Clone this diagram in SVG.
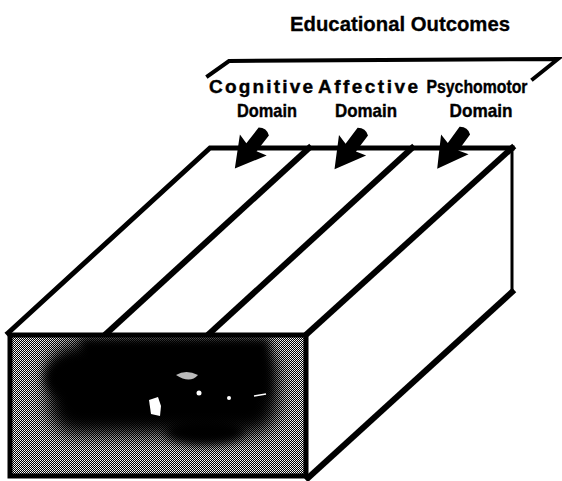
<svg xmlns="http://www.w3.org/2000/svg" width="562" height="481" viewBox="0 0 562 481">
  <style>
    .lbl { font-family: "Liberation Sans", Arial, sans-serif; font-weight: bold; font-size: 19px; fill: #000; stroke: #000; stroke-width: 0.4; }
    .title { font-family: "Liberation Sans", Arial, sans-serif; font-weight: bold; font-size: 21px; fill: #000; stroke: #000; stroke-width: 0.3; }
    .edge { fill: none; stroke: #000; stroke-linejoin: miter; stroke-linecap: square; }
  </style>
  <defs>
    <!-- halftone dither for the front face -->
    <pattern id="dither" width="2" height="2" patternUnits="userSpaceOnUse">
      <rect width="2" height="2" fill="#000"/>
      <rect x="0" y="0" width="1" height="1" fill="#fff"/>
      <rect x="1" y="1" width="1" height="1" fill="#e0e0e0"/>
    </pattern>
    <filter id="soft" x="-30%" y="-30%" width="160%" height="160%">
      <feGaussianBlur stdDeviation="9"/>
    </filter>
    <filter id="soft2" x="-30%" y="-30%" width="160%" height="160%">
      <feGaussianBlur stdDeviation="5"/>
    </filter>
    <clipPath id="front">
      <rect x="8" y="333" width="300" height="145"/>
    </clipPath>
    <!-- domain arrow, pointing along +x -->
    <path id="arrow" d="M2,-6.5 L22,-6.5 L19,-17 L49,0 L19,17 L22,6.5 L2,6.5 Q-3,0 2,-6.5 Z"/>
  </defs>

  <!-- title -->
  <g id="title">
    <text class="title" x="400" y="31" text-anchor="middle" textLength="220" lengthAdjust="spacingAndGlyphs">Educational  Outcomes</text>
  </g>

  <!-- bracket over the three domains -->
  <g id="bracket">
    <polyline class="edge" points="208,76 229,61 558,59 533,79" stroke-width="4"/>
  </g>

  <!-- domain labels -->
  <g id="cognitive">
    <text class="lbl" x="261" y="93" text-anchor="middle" textLength="104" lengthAdjust="spacing">Cognitive</text>
    <text class="lbl" x="267" y="117" text-anchor="middle" textLength="60" lengthAdjust="spacingAndGlyphs">Domain</text>
  </g>
  <g id="affective">
    <text class="lbl" x="368" y="93" text-anchor="middle" textLength="100" lengthAdjust="spacing">Affective</text>
    <text class="lbl" x="366" y="117" text-anchor="middle" textLength="62" lengthAdjust="spacingAndGlyphs">Domain</text>
  </g>
  <g id="psychomotor">
    <text class="lbl" x="477" y="93" text-anchor="middle" textLength="101" lengthAdjust="spacingAndGlyphs">Psychomotor</text>
    <text class="lbl" x="481" y="117" text-anchor="middle" textLength="63" lengthAdjust="spacingAndGlyphs">Domain</text>
  </g>

  <!-- the block -->
  <g id="block">
    <!-- top face -->
    <polygon points="8,333 210,148 512,148 308,333" fill="#fff"/>
    <!-- right face -->
    <polygon points="308,333 512,148 512,292 308,478" fill="#fff"/>
    <!-- front face: halftone with a dark core -->
    <rect x="8" y="333" width="300" height="145" fill="url(#dither)"/>
    <g clip-path="url(#front)">
      <rect x="48" y="343" width="230" height="92" rx="30" fill="#000" filter="url(#soft)"/>
      <rect x="80" y="338" width="190" height="60" fill="#000" filter="url(#soft2)"/>
      <ellipse cx="72" cy="378" rx="28" ry="22" fill="#000" filter="url(#soft2)"/>
      <ellipse cx="205" cy="432" rx="40" ry="14" fill="#000" filter="url(#soft2)"/>
    </g>
    <path d="M149,400 l9,-3 l3,9 l-1,10 l-9,-2 z" fill="#fff"/>
    <path d="M176,375 q10,-6 22,0 q-8,9 -22,0 z" fill="#bbb"/>
    <circle cx="199" cy="393" r="2.5" fill="#fff"/>
    <circle cx="229" cy="398" r="2" fill="#fff"/>
    <path d="M254,396 l12,-2" stroke="#fff" stroke-width="1.5"/>

    <!-- outlines -->
    <rect class="edge" x="10" y="335" width="296" height="141" stroke-width="5"/>
    <polyline class="edge" points="8,333 210,148 512,148" stroke-width="5"/>
    <line class="edge" x1="512" y1="148" x2="512" y2="292" stroke-width="3"/>
    <line class="edge" x1="512" y1="292" x2="308" y2="478" stroke-width="6"/>
    <line class="edge" x1="308" y1="333" x2="512" y2="148" stroke-width="6"/>
    <line class="edge" x1="107" y1="333" x2="309" y2="148" stroke-width="6"/>
    <line class="edge" x1="210" y1="333" x2="412" y2="148" stroke-width="6"/>
  </g>

  <!-- arrows into the top face -->
  <g id="connectors" fill="#000">
    <use href="#arrow" transform="translate(265,130) rotate(128)"/>
    <use href="#arrow" transform="translate(364,130) rotate(127)"/>
    <use href="#arrow" transform="translate(466,129) rotate(126)"/>
  </g>
</svg>
